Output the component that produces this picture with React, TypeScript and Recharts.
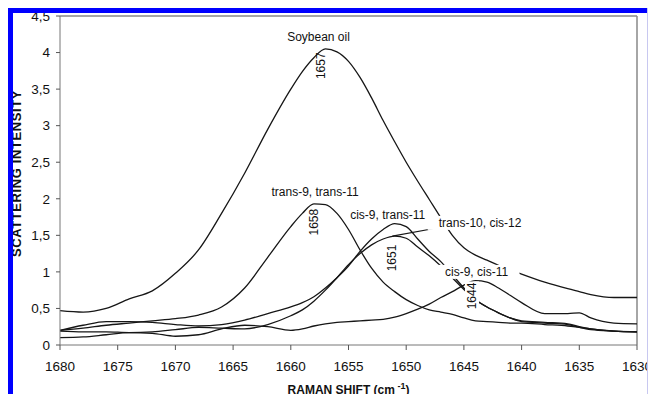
import React from 'react';
import { LineChart, Line, XAxis, YAxis, ReferenceDot, ReferenceLine } from 'recharts';

// Raman shift grid (cm-1), shared by all spectra
const shifts = [
  1680, 1678, 1676, 1674, 1672, 1670, 1668, 1666, 1664, 1662, 1660, 1659, 1658,
  1657, 1656, 1655, 1654, 1653, 1652, 1651, 1650, 1649, 1648, 1647, 1646, 1645,
  1644, 1643, 1642, 1641, 1640, 1638, 1636, 1635, 1634, 1632, 1630,
];

const soybeanOil = [
  0.47, 0.45, 0.5, 0.63, 0.74, 0.98, 1.3, 1.8, 2.35, 2.95, 3.5, 3.74, 3.93,
  4.05, 4.01, 3.88, 3.66, 3.38, 3.07, 2.78, 2.5, 2.24, 1.99, 1.74, 1.5, 1.33,
  1.23, 1.16, 1.09, 1.03, 0.97, 0.86, 0.77, 0.73, 0.69, 0.65, 0.65,
];

const trans9trans11 = [
  0.2, 0.23, 0.27, 0.3, 0.33, 0.36, 0.41, 0.52, 0.78, 1.2, 1.62, 1.8, 1.93,
  1.92, 1.8, 1.58, 1.3, 1.05, 0.86, 0.73, 0.62, 0.54, 0.48, 0.45, 0.42, 0.37,
  0.33, 0.32, 0.31, 0.3, 0.3, 0.28, 0.26, 0.24, 0.22, 0.19, 0.18,
];

const cis9trans11 = [
  0.2, 0.27, 0.32, 0.32, 0.31, 0.28, 0.26, 0.28, 0.34, 0.43, 0.52, 0.58, 0.66,
  0.78, 0.92, 1.08, 1.28, 1.45, 1.58, 1.66, 1.62, 1.45, 1.28, 1.14, 0.96, 0.78,
  0.62, 0.52, 0.44, 0.37, 0.32, 0.3, 0.28, 0.24, 0.21, 0.19, 0.18,
];

const trans10cis12 = [
  0.19, 0.18, 0.18, 0.17, 0.18, 0.21, 0.24, 0.23, 0.22, 0.28, 0.4, 0.48, 0.6,
  0.75, 0.92, 1.1, 1.25, 1.37, 1.45, 1.49, 1.46, 1.34, 1.22, 1.08, 0.92, 0.76,
  0.62, 0.52, 0.44, 0.37, 0.33, 0.31, 0.29, 0.25, 0.22, 0.19, 0.18,
];

const cis9cis11 = [
  0.1, 0.11, 0.14, 0.17, 0.16, 0.12, 0.14, 0.22, 0.27, 0.25, 0.2, 0.22, 0.26,
  0.29, 0.31, 0.32, 0.33, 0.34, 0.35, 0.38, 0.43, 0.49, 0.56, 0.65, 0.73, 0.82,
  0.88, 0.86, 0.78, 0.68, 0.58, 0.43, 0.43, 0.44, 0.37, 0.3, 0.29,
];

const xTicks = [1680, 1675, 1670, 1665, 1660, 1655, 1650, 1645, 1640, 1635, 1630];
const yTicks = [0, 0.5, 1, 1.5, 2, 2.5, 3, 3.5, 4, 4.5];

// text annotations, anchored in data coordinates
const annotations = [
  { text: 'Soybean oil', shift: 1657.6, value: 4.21, rotate: false, bg: false },
  { text: '1657', shift: 1657.4, value: 3.82, rotate: true, bg: false },
  { text: 'trans-9, trans-11', shift: 1657.9, value: 2.09, rotate: false, bg: false },
  { text: '1658', shift: 1658.0, value: 1.68, rotate: true, bg: false },
  { text: 'cis-9, trans-11', shift: 1651.6, value: 1.78, rotate: false, bg: false },
  { text: '1651', shift: 1651.2, value: 1.19, rotate: true, bg: false },
  { text: 'trans-10, cis-12', shift: 1643.6, value: 1.67, rotate: false, bg: true },
  { text: 'cis-9, cis-11', shift: 1643.9, value: 1.0, rotate: false, bg: true },
  { text: '1644', shift: 1644.3, value: 0.67, rotate: true, bg: true },
];

const data = shifts.map((s, i) => ({
  shift: s,
  soy: soybeanOil[i],
  t9t11: trans9trans11[i],
  c9t11: cis9trans11[i],
  t10c12: trans10cis12[i],
  c9c11: cis9cis11[i],
}));

const seriesKeys = ['soy', 't9t11', 'c9t11', 't10c12', 'c9c11'];

const FONT = '"Liberation Sans", Arial, sans-serif';

const fmtY = (v: number) => String(v).replace('.', ',');

const makeAnno = (a: (typeof annotations)[number]) => (props: any) => {
  const { cx, cy } = props;
  const w = a.text.length * 6.3 + 4;
  const h = 14;
  const tf = a.rotate ? `rotate(-90 ${cx} ${cy})` : undefined;
  return (
    <g transform={tf}>
      {a.bg && <rect x={cx - w / 2} y={cy - h / 2} width={w} height={h} fill="#fff" />}
      <text
        x={cx}
        y={cy}
        textAnchor="middle"
        dominantBaseline="central"
        fontFamily={FONT}
        fontSize={12}
        fill="#111"
      >
        {a.text}
      </text>
    </g>
  );
};

const XTitle = (props: any) => {
  const vb = props.viewBox;
  const cx = vb.x + vb.width / 2;
  return (
    <text x={cx} y={394} textAnchor="middle" fontFamily={FONT} fontSize={12} fontWeight="bold" fill="#111">
      RAMAN SHIFT (cm
      <tspan dy={-5} fontSize={9}> -1</tspan>
      <tspan dy={5}>)</tspan>
    </text>
  );
};

const YTitle = (props: any) => {
  const vb = props.viewBox;
  const cy = vb.y + vb.height / 2 - 7;
  return (
    <text
      x={16}
      y={cy}
      transform={`rotate(-90 16 ${cy})`}
      textAnchor="middle"
      dominantBaseline="central"
      fontFamily={FONT}
      fontSize={13}
      letterSpacing={0.6}
      fontWeight="bold"
      fill="#111"
    >
      SCATTERING INTENSITY
    </text>
  );
};

export default function App() {
  return (
    <div style={{ position: 'fixed', left: 0, top: 0, width: 648, height: 394, background: '#fff', overflow: 'hidden' }}>
      <LineChart width={648} height={394} data={data} margin={{ top: 16, right: 11, left: 0, bottom: 19 }}>
        <XAxis
          dataKey="shift"
          type="number"
          domain={[1630, 1680]}
          reversed
          ticks={xTicks}
          interval={0}
          height={30}
          tickSize={5}
          tickMargin={11}
          stroke="#777"
          tick={{ fill: '#111', fontSize: 13.5, fontFamily: FONT }}
          tickLine={{ stroke: '#555' }}
          label={{ content: XTitle }}
        />
        <YAxis
          type="number"
          domain={[0, 4.5]}
          ticks={yTicks}
          interval={0}
          width={60}
          tickSize={4}
          tickMargin={6}
          tickFormatter={fmtY}
          stroke="#777"
          tick={{ fill: '#111', fontSize: 13.5, fontFamily: FONT }}
          tickLine={{ stroke: '#555' }}
          label={{ content: YTitle }}
        />
        <ReferenceLine y={4.5} stroke="#888" strokeWidth={1.5} />
        <ReferenceLine x={1630} stroke="#888" strokeWidth={1.5} />
        {seriesKeys.map((k) => (
          <Line
            key={k}
            dataKey={k}
            type="monotone"
            stroke="#161616"
            strokeWidth={1.3}
            dot={false}
            isAnimationActive={false}
          />
        ))}
        <ReferenceLine
          segment={[
            { x: 1647.7, y: 1.59 },
            { x: 1651.2, y: 1.49 },
          ]}
          stroke="#161616"
          strokeWidth={1.2}
        />
        {annotations.map((a) => (
          <ReferenceDot key={a.text} x={a.shift} y={a.value} r={0} shape={makeAnno(a)} />
        ))}
      </LineChart>
      <div style={{ position: 'absolute', left: 8, top: 8, width: 640, height: 5, background: '#0000ff' }} />
      <div style={{ position: 'absolute', left: 8, top: 8, width: 5, height: 386, background: '#0000ff' }} />
      <div style={{ position: 'absolute', left: 647, top: 8, width: 1, height: 386, background: '#c8c8f0' }} />
    </div>
  );
}
